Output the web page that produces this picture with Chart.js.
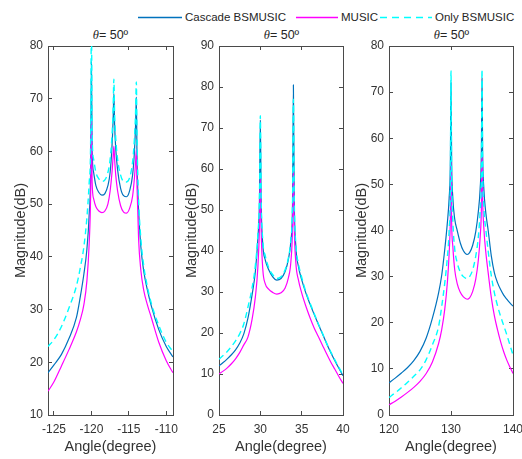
<!DOCTYPE html>
<html>
<head>
<meta charset="utf-8">
<script src="https://cdn.jsdelivr.net/npm/chart.js@4/dist/chart.umd.min.js"></script>
<style>
  html, body { margin: 0; padding: 0; background: #fff; width: 522px; height: 459px; overflow: hidden; }
  body { position: relative; font-family: "Liberation Sans", Arial, sans-serif; color: #262626; }
  canvas { position: absolute; top: 26px; }
  .ttl { position: absolute; top: 28px; width: 125px; height: 15px; line-height: 15px; text-align: center; font-size: 12.5px; }
  .ttl i { font-family: "Liberation Serif", serif; }
  .lg { position: absolute; top: 10px; height: 14px; line-height: 14px; font-size: 11.5px; white-space: nowrap; }
  #sw { position: absolute; left: 0; top: 0; }
</style>
</head>
<body>

<!-- legend -->
<svg id="sw" width="522" height="26">
  <line x1="138" y1="17.5" x2="182" y2="17.5" stroke="#0072BD" stroke-width="1.3"/>
  <line x1="296" y1="17.5" x2="338" y2="17.5" stroke="#FF00FF" stroke-width="1.3"/>
  <line x1="380" y1="17.5" x2="432" y2="17.5" stroke="#00FFFF" stroke-width="1.4" stroke-dasharray="7 5"/>
</svg>
<div class="lg" style="left:185px;">Cascade BSMUSIC</div>
<div class="lg" style="left:341px;">MUSIC</div>
<div class="lg" style="left:435px;">Only BSMUSIC</div>

<div class="ttl" style="left:48px;"><i>θ</i>= 50º</div>
<div class="ttl" style="left:219px;"><i>θ</i>= 50º</div>
<div class="ttl" style="left:389px;"><i>θ</i>= 50º</div>

<canvas id="c1" width="197" height="433" style="left:0px;"></canvas>
<canvas id="c2" width="196" height="433" style="left:171px;"></canvas>
<canvas id="c3" width="196" height="433" style="left:341px;"></canvas>

<script>
// panel 1 (theta = 50, sources near -120 / -117 / -114)
const angles1 = [-125.8, -125, -124, -123, -122, -121.5, -121, -120.6, -120.3, -120.1,
  -120, -119.9, -119.7, -119.4, -119, -118.6, -118.2, -117.8, -117.5, -117.25,
  -117.1, -117, -116.9, -116.75, -116.5, -116.1, -115.7, -115.3, -114.9, -114.5,
  -114.25, -114.1, -114, -113.9, -113.7, -113.4, -113, -112.5, -112, -111,
  -110, -109.1];
const cascade1 = [18, 19.5, 21.5, 24.5, 28.5, 32.3, 36.8, 41.5, 48, 57,
  77, 60, 56, 53.5, 52.2, 51.7, 52, 53.5, 56, 61,
  66, 71, 65, 60.5, 56.5, 53, 51.6, 51.4, 52.5, 55.5,
  60, 65, 70.3, 58, 49, 42, 37.2, 33.6, 30.7, 26.2,
  23, 21];
const music1 = [14.5, 16.3, 19.3, 22.4, 25.8, 28, 31, 35.5, 42.5, 52,
  66, 54, 51, 49.5, 48.7, 48.4, 48.7, 50, 52.5, 56,
  59, 61, 58.5, 55.5, 52.5, 49.7, 48.5, 48.3, 49.2, 51.5,
  55, 58, 60.3, 53, 43.5, 37.5, 33.6, 30.8, 28.5, 23.8,
  20.3, 18];
const only1 = [23, 24.3, 26.8, 30.3, 34.5, 37.8, 42, 47.5, 54, 62,
  85, 63, 58.5, 56, 54.8, 54.3, 54.6, 56, 58.5, 63,
  68, 73.7, 67, 62.5, 58.5, 55.5, 54.3, 54.2, 55, 58,
  62.5, 67.5, 73.2, 62, 51, 43.5, 38.2, 34.2, 31.2, 27,
  23.8, 22];

// panel 2 (sources at 30 / 34)
const angles2 = [25, 25.5, 26, 26.5, 27, 27.5, 28, 28.5, 29, 29.4,
  29.7, 29.9, 30, 30.1, 30.3, 30.6, 31, 31.5, 32, 32.5,
  33, 33.4, 33.7, 33.9, 34, 34.1, 34.3, 34.6, 35, 35.5,
  36, 36.5, 37, 37.5, 38, 38.5, 39, 39.5, 40];
const cascade2 = [12, 12.8, 13.7, 14.7, 15.9, 17.5, 19.8, 23.6, 29.3, 35,
  43, 53, 72, 52, 41.5, 37.8, 35.5, 33.7, 32.9, 33.3,
  35, 38, 42.5, 52, 80.5, 53, 41, 36.3, 33, 29.8,
  27.1, 24.6, 22.2, 19.9, 17.5, 15.3, 13.3, 11.4, 9.6];
const music2 = [10, 10.7, 11.5, 12.5, 13.7, 15.2, 17.1, 19, 23.3, 28.8,
  36, 46, 58, 45, 35.5, 32, 30.7, 29.9, 29.5, 29.8,
  31, 33.5, 37.5, 46, 60, 46, 37, 33, 29.8, 26.6,
  23.8, 21.3, 19.2, 17.1, 15, 13, 11.2, 9.4, 7.7];
const only2 = [13.6, 14.5, 15.5, 16.7, 18.1, 19.8, 22.2, 26.3, 31, 36.5,
  44, 54, 73, 53, 42.5, 38.8, 36, 34.2, 33.3, 33.7,
  35.4, 38.4, 43, 52.5, 77, 53.5, 41.5, 37, 33.6, 30.1,
  27.4, 24.8, 22.3, 20, 17.6, 15.5, 13.5, 11.6, 9.8];

// panel 3 (sources at 130 / 135)
const angles3 = [120, 121, 122, 123, 124, 125, 126, 127, 128, 128.5,
  129, 129.4, 129.7, 129.9, 130, 130.1, 130.3, 130.6, 131, 131.5,
  132, 132.6, 133, 133.5, 134, 134.4, 134.7, 134.9, 135, 135.1,
  135.3, 135.6, 136, 136.5, 137, 137.5, 138, 138.5, 139, 139.5,
  140];
const cascade3 = [7, 8, 9.1, 10.3, 11.8, 13.8, 16.7, 21, 26.5, 30.3,
  36, 41.5, 47, 55, 72, 55, 47, 42.5, 40, 37.3,
  35.6, 34.8, 35.2, 36.8, 39.8, 44, 49, 57, 73, 57,
  49, 44, 40, 34.5, 30.8, 28.7, 27.2, 26, 25.1, 24.3,
  23.6];
const music3 = [2.2, 3, 3.9, 4.9, 6, 7.3, 9, 11.5, 15.5, 18.5,
  23, 28.5, 35, 43, 55, 42, 36.5, 31.5, 28.5, 26.6,
  25.6, 25.1, 25.4, 26.8, 29.5, 33.5, 38.5, 45, 57, 47,
  40.5, 35.5, 30.8, 25.5, 21.5, 18.5, 15.9, 13.7, 11.9, 10.4,
  9];
const only3 = [3.8, 4.8, 5.9, 7.1, 8.4, 9.8, 12, 15.2, 19.2, 23.5,
  28.7, 34, 40, 50, 74.6, 52, 42, 36, 33, 31,
  30, 29.6, 30, 31.5, 34.5, 38.5, 44, 52, 74.9, 54,
  45, 40.5, 35.5, 30.2, 26.5, 23.7, 21.4, 19.4, 17.4, 15.2,
  13];

const FONT = '"Liberation Sans", Arial, sans-serif';
const AXIS = '#4a4a4a';
const TXT = '#333333';

function drawPanel(id, angles, cascade, music, only, xMin, xMax, xStep, yMin, yMax) {
  const pts = vals => angles.map((a, i) => ({ x: a, y: vals[i] }));
  // box axes: ticks point inward like the original
  const inner = { drawOnChartArea: false, drawTicks: true, tickLength: -4, color: AXIS, lineWidth: 1 };

  new Chart(document.getElementById(id), {
    type: 'line',
    data: {
      datasets: [
        { label: 'Cascade BSMUSIC', data: pts(cascade), borderColor: '#0072BD', borderWidth: 1.2, order: 2 },
        { label: 'MUSIC', data: pts(music), borderColor: '#FF00FF', borderWidth: 1.2, order: 1 },
        { label: 'Only BSMUSIC', data: pts(only), borderColor: '#00FFFF', borderWidth: 1.4, borderDash: [6, 4], order: 0 }
      ]
    },
    options: {
      responsive: false,
      animation: false,
      devicePixelRatio: 1,
      layout: { padding: { top: 20, right: 24, left: 0, bottom: 0 } },
      elements: {
        point: { radius: 0 },
        line: { cubicInterpolationMode: 'monotone', fill: false }
      },
      plugins: { legend: { display: false }, tooltip: { enabled: false }, title: { display: false } },
      scales: {
        x: {
          type: 'linear', position: 'bottom', min: xMin, max: xMax,
          ticks: { stepSize: xStep, includeBounds: false, padding: 11, color: TXT, font: { family: FONT, size: 12 } },
          grid: inner,
          border: { color: AXIS, width: 1 },
          title: { display: true, text: 'Angle(degree)', color: TXT, font: { family: FONT, size: 14.5 }, padding: { top: 0, bottom: 3 } },
          afterFit: s => { s.height = 44; }
        },
        y: {
          type: 'linear', position: 'left', min: yMin, max: yMax,
          ticks: { stepSize: 10, includeBounds: false, padding: 9, color: TXT, font: { family: FONT, size: 12 } },
          grid: inner,
          border: { color: AXIS, width: 1 },
          title: { display: true, text: 'Magnitude(dB)', color: TXT, font: { family: FONT, size: 14.5 }, padding: { top: 12, bottom: 0 } },
          afterFit: s => { s.width = 48; }
        },
        xTop: {
          type: 'linear', position: 'top', min: xMin, max: xMax,
          ticks: { display: false, stepSize: xStep, includeBounds: false },
          grid: inner,
          border: { color: AXIS, width: 1 },
          afterFit: s => { s.height = 0; }
        },
        yRight: {
          type: 'linear', position: 'right', min: yMin, max: yMax,
          ticks: { display: false, stepSize: 10, includeBounds: false },
          grid: inner,
          border: { color: AXIS, width: 1 },
          afterFit: s => { s.width = 0; }
        }
      }
    }
  });
}

drawPanel('c1', angles1, cascade1, music1, only1, -125.8, -109.1, 5, 10, 80);
drawPanel('c2', angles2, cascade2, music2, only2, 25, 40, 5, 0, 90);
drawPanel('c3', angles3, cascade3, music3, only3, 120, 140, 10, 0, 80);
</script>
</body>
</html>
